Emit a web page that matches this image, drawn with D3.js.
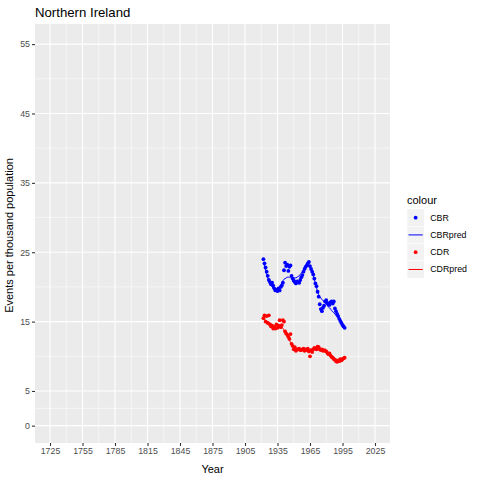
<!DOCTYPE html>
<html>
<head>
<meta charset="utf-8">
<script src="https://cdn.jsdelivr.net/npm/d3@7"></script>
<style>
  body { margin: 0; background: #fff; }
  text { font-family: "Liberation Sans", Arial, sans-serif; }
</style>
</head>
<body>
<svg id="chart" width="480" height="480"></svg>
<script>
// data, one value per year
var years = d3.range(1922, 1998);

var cbr = [24.0, 23.4, 22.8, 22.2, 21.6, 21.0, 20.7, 20.4, 20.6, 20.2,
           19.8, 19.5, 19.6, 19.4, 19.8, 19.5, 20.0, 20.2, 20.6, 22.4,
           23.5, 23.0, 23.2, 22.3, 22.9, 23.1, 21.6, 21.2, 20.9, 20.7,
           20.5, 20.8, 20.7, 20.6, 21.0, 21.4, 21.7, 22.2, 22.6, 22.9,
           23.1, 23.4, 23.6, 23.0, 22.6, 22.2, 21.8, 21.2, 20.5, 20.1,
           19.3, 18.6, 17.5, 16.8, 16.5, 17.0, 17.3, 17.9, 18.1, 17.7,
           17.5, 17.4, 17.8, 17.9, 17.6, 17.9, 16.9, 16.5, 16.1, 15.8,
           15.4, 15.1, 14.8, 14.5, 14.3, 14.1];

var cbrPred = [23.6, 23.0, 22.4, 21.8, 21.3, 20.9, 20.5, 20.2, 20.0, 19.8,
               19.7, 19.6, 19.6, 19.7, 19.8, 20.0, 20.3, 20.6, 20.9, 21.1,
               21.2, 21.3, 21.4, 21.4, 21.4, 21.4, 21.3, 21.3, 21.3, 21.3,
               21.3, 21.4, 21.5, 21.6, 21.8, 22.0, 22.2, 22.4, 22.6, 22.8,
               23.0, 23.1, 23.1, 22.9, 22.6, 22.2, 21.7, 21.1, 20.5, 19.9,
               19.3, 18.9, 18.6, 18.4, 18.2, 18.0, 17.9, 17.7, 17.5, 17.3,
               17.1, 17.0, 16.8, 16.6, 16.4, 16.3, 16.1, 15.9, 15.7, 15.5,
               15.3, 15.2, 15.0, 14.8, 14.6, 14.4];

var cdr = [15.5, 15.9, 15.0, 15.8, 14.8, 15.9, 14.6, 14.3, 14.4, 14.0,
           14.2, 14.0, 14.6, 14.1, 14.4, 15.2, 14.2, 14.5, 15.2, 15.0,
           13.6, 13.3, 13.1, 12.8, 12.5, 13.2, 11.8, 11.5, 11.0, 11.3,
           10.8, 11.0, 11.0, 11.1, 10.9, 10.9, 11.0, 11.1, 10.8, 11.0,
           10.9, 11.1, 10.7, 10.0, 10.9, 10.6, 11.0, 11.2, 11.1, 11.0,
           11.4, 11.3, 11.0, 10.9, 11.0, 10.8, 10.9, 10.8, 10.7, 10.5,
           10.3, 10.4, 10.1, 9.9, 9.8, 9.6, 9.5, 9.3, 9.2, 9.4,
           9.3, 9.6, 9.4, 9.6, 9.7, 9.8];

var cdrPred = [15.4, 15.3, 15.2, 15.1, 15.0, 14.9, 14.8, 14.7, 14.6, 14.5,
               14.4, 14.4, 14.4, 14.4, 14.4, 14.4, 14.3, 14.2, 14.0, 13.8,
               13.5, 13.2, 12.9, 12.6, 12.3, 12.0, 11.8, 11.6, 11.4, 11.2,
               11.1, 11.0, 11.0, 11.0, 11.0, 10.9, 10.9, 10.9, 10.9, 10.9,
               10.9, 10.9, 10.9, 10.9, 10.9, 10.9, 10.9, 11.0, 11.0, 11.0,
               11.0, 11.0, 11.0, 11.0, 11.0, 10.9, 10.8, 10.7, 10.6, 10.5,
               10.4, 10.3, 10.1, 10.0, 9.9, 9.8, 9.7, 9.6, 9.5, 9.5,
               9.5, 9.5, 9.5, 9.5, 9.6, 9.6];

var xTicks = [1725, 1755, 1785, 1815, 1845, 1875, 1905, 1935, 1965, 1995, 2025];
var yTicks = [0, 5, 15, 25, 35, 45, 55];

var seriesNames = ["CBR", "CBRpred", "CDR", "CDRpred"];
var colours = { CBR: "#0000FF", CBRpred: "#0000FF", CDR: "#FF0000", CDRpred: "#FF0000" };

var svg = d3.select("#chart");
var panel = { left: 35, right: 390, top: 24, bottom: 443 };

var x = d3.scaleLinear().domain([1711.15, 2038.85]).range([panel.left, panel.right]);
var y = d3.scaleLinear().domain([-2.5, 57.9]).range([panel.bottom, panel.top]);

// panel background
svg.append("rect")
  .attr("x", panel.left).attr("y", panel.top)
  .attr("width", panel.right - panel.left)
  .attr("height", panel.bottom - panel.top)
  .attr("fill", "#EBEBEB");

// minor grid sits halfway between major ticks
var xMinor = d3.pairs(xTicks).map(function (p) { return (p[0] + p[1]) / 2; });
var yMinor = d3.pairs(yTicks).map(function (p) { return (p[0] + p[1]) / 2; });

var grid = svg.append("g");
grid.selectAll(".xminor").data(xMinor).enter().append("line")
  .attr("x1", x).attr("x2", x)
  .attr("y1", panel.top).attr("y2", panel.bottom)
  .attr("stroke", "#fff").attr("stroke-width", 0.55);
grid.selectAll(".yminor").data(yMinor).enter().append("line")
  .attr("y1", y).attr("y2", y)
  .attr("x1", panel.left).attr("x2", panel.right)
  .attr("stroke", "#fff").attr("stroke-width", 0.55);
grid.selectAll(".xmajor").data(xTicks).enter().append("line")
  .attr("x1", x).attr("x2", x)
  .attr("y1", panel.top).attr("y2", panel.bottom)
  .attr("stroke", "#fff").attr("stroke-width", 1.1);
grid.selectAll(".ymajor").data(yTicks).enter().append("line")
  .attr("y1", y).attr("y2", y)
  .attr("x1", panel.left).attr("x2", panel.right)
  .attr("stroke", "#fff").attr("stroke-width", 1.1);

// axes
var xAxis = svg.append("g")
  .attr("transform", "translate(0," + panel.bottom + ")")
  .call(d3.axisBottom(x).tickValues(xTicks).tickFormat(d3.format("d")).tickSizeOuter(0).tickSize(3).tickPadding(2));
var yAxis = svg.append("g")
  .attr("transform", "translate(" + panel.left + ",0)")
  .call(d3.axisLeft(y).tickValues(yTicks).tickFormat(d3.format("d")).tickSizeOuter(0).tickSize(3).tickPadding(2));

[xAxis, yAxis].forEach(function (a) {
  a.select(".domain").remove();
  a.selectAll(".tick line").attr("stroke", "#333333").attr("stroke-width", 1.1);
  a.selectAll(".tick text")
    .attr("fill", "#4D4D4D")
    .style("font-size", "8.8px")
    .style("font-family", "Liberation Sans, Arial, sans-serif");
});

// points and fitted lines
function rows(vals) {
  return vals.map(function (v, i) { return { year: years[i], value: v }; });
}

var line = d3.line()
  .x(function (d) { return x(d.year); })
  .y(function (d) { return y(d.value); });

var plot = svg.append("g");
[["CBR", cbr], ["CDR", cdr]].forEach(function (s) {
  plot.append("g").selectAll("circle").data(rows(s[1])).enter().append("circle")
    .attr("cx", function (d) { return x(d.year); })
    .attr("cy", function (d) { return y(d.value); })
    .attr("r", 1.9)
    .attr("fill", colours[s[0]]);
});
[["CBRpred", cbrPred], ["CDRpred", cdrPred]].forEach(function (s) {
  plot.append("path")
    .datum(rows(s[1]))
    .attr("d", line)
    .attr("fill", "none")
    .attr("stroke", colours[s[0]])
    .attr("stroke-width", 1);
});

// titles
svg.append("text")
  .attr("x", panel.left).attr("y", 17)
  .style("font-size", "13.2px")
  .text("Northern Ireland");

svg.append("text")
  .attr("x", (panel.left + panel.right) / 2).attr("y", 473)
  .attr("text-anchor", "middle")
  .style("font-size", "11px")
  .text("Year");

svg.append("text")
  .attr("transform", "translate(13," + ((panel.top + panel.bottom) / 2 + 2) + ") rotate(-90)")
  .attr("text-anchor", "middle")
  .style("font-size", "11px")
  .text("Events per thousand population");

// legend
var legend = svg.append("g").attr("transform", "translate(407,209)");
legend.append("text")
  .attr("x", 0).attr("y", -5)
  .style("font-size", "11px")
  .text("colour");

var key = 17.28;
var items = legend.selectAll(".item").data(seriesNames).enter().append("g")
  .attr("transform", function (d, i) { return "translate(0," + (i * key) + ")"; });
items.append("rect")
  .attr("width", key).attr("height", key)
  .attr("fill", "#F2F2F2").attr("stroke", "#fff").attr("stroke-width", 0.5);
items.filter(function (d) { return d.indexOf("pred") < 0; }).append("circle")
  .attr("cx", key / 2).attr("cy", key / 2).attr("r", 1.9)
  .attr("fill", function (d) { return colours[d]; });
items.filter(function (d) { return d.indexOf("pred") >= 0; }).append("line")
  .attr("x1", 1.5).attr("x2", key - 1.5)
  .attr("y1", key / 2).attr("y2", key / 2)
  .attr("stroke", function (d) { return colours[d]; }).attr("stroke-width", 1);
items.append("text")
  .attr("x", key + 6).attr("y", key / 2 + 3)
  .style("font-size", "8.8px")
  .text(function (d) { return d; });
</script>
</body>
</html>
